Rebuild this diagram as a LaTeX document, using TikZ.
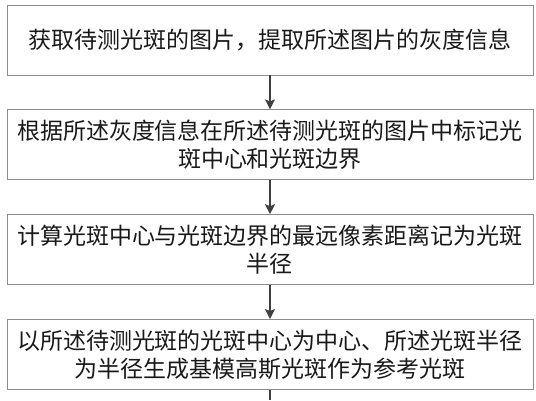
\documentclass[tikz,border=0pt]{standalone}
\usepackage{fontspec}
\newfontfamily\cjk{Noto Sans CJK SC}
\usetikzlibrary{arrows.meta,positioning}

\begin{document}
\begin{tikzpicture}[x=1pt,y=1pt,node distance=34pt]
      \useasboundingbox (0,0) rectangle (536,-400);
      \tikzset{stepbox/.style={draw=black!45,line width=0.8pt,rectangle,minimum width=526pt,minimum height=70pt,align=center,inner sep=0pt,font=\cjk\fontsize{23}{28}\selectfont,text=black!90}}
      \node[stepbox] (s1) at (270,-40) {获取待测光斑的图片，提取所述图片的灰度信息};
      \node[stepbox,below=of s1] (s2) {根据所述灰度信息在所述待测光斑的图片中标记光\\斑中心和光斑边界};
      \node[stepbox,below=of s2] (s3) {计算光斑中心与光斑边界的最远像素距离记为光斑\\半径};
      \node[stepbox,below=of s3] (s4) {以所述待测光斑的光斑中心为中心、所述光斑半径\\为半径生成基模高斯光斑作为参考光斑};
      \coordinate (end) at (s4.south |- 0,-400);
      \draw[-{Stealth[length=10pt,width=10pt,inset=2pt]},line width=1.3pt,black!75] (s1)--(s2);
      \draw[-{Stealth[length=10pt,width=10pt,inset=2pt]},line width=1.3pt,black!75] (s2)--(s3);
      \draw[-{Stealth[length=10pt,width=10pt,inset=2pt]},line width=1.3pt,black!75] (s3)--(s4);
      \draw[line width=1.3pt,black!75] (s4)--(end);
    \end{tikzpicture}
\end{document}
